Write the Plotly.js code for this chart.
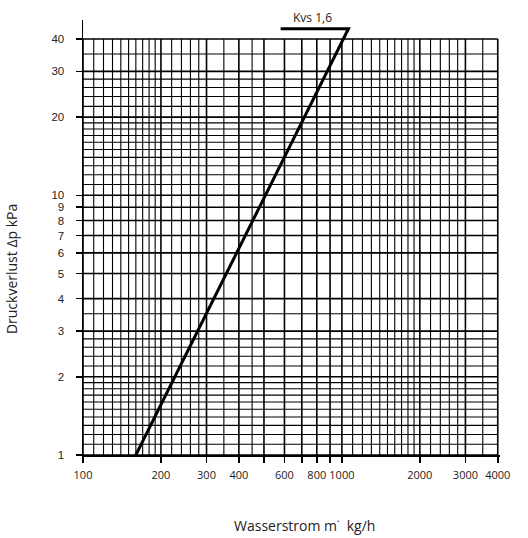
<!DOCTYPE html>
<html>
<head>
<meta charset="utf-8">
<script src="https://cdn.plot.ly/plotly-3.0.1.min.js"></script>
<style>html,body{margin:0;padding:0;background:#fff;}</style>
</head>
<body>
<div id="chart" style="width:528px;height:538px;"></div>
<script>
// Kvs 1,6 characteristic (flow kg/h vs pressure drop kPa)
const flow = [160, 1060, 580];
const dp   = [1, 43.8, 43.8];
const curveLabel = 'Kvs 1,6';

// axis ticks
const xTickVals = [100, 200, 300, 400, 500, 600, 700, 800, 900, 1000, 2000, 3000, 4000];
const xTickText = ['100', '200', '300', '400', '', '600', '', '800', '', '1000', '2000', '3000', '4000'];
const yTickVals = [1, 2, 3, 4, 5, 6, 7, 8, 9, 10, 20, 30, 40];
const yTickText = ['1', '2', '3', '4', '5', '6', '7', '8', '9', '10', '20', '30', '40'];

// grid lines
const xMinorGrid = [110, 120, 130, 140, 150, 160, 170, 180, 190, 220, 240, 260, 280, 350, 450,
  1100, 1200, 1300, 1400, 1500, 1600, 1700, 1800, 1900, 2200, 2400, 2600, 2800, 3500];
const yMinorGrid = [1.1, 1.2, 1.3, 1.4, 1.5, 1.6, 1.7, 1.8, 1.9, 2.2, 2.4, 2.6, 2.8, 3.5,
  11, 12, 13, 14, 15, 16, 17, 18, 19, 22, 24, 26, 28, 35];

const xMin = 100, xMax = 4000, yMin = 1, yMax = 40;

function vLines(vals) {
  const x = [], y = [];
  vals.forEach(v => { x.push(v, v, null); y.push(yMin, yMax, null); });
  return {x, y};
}
function hLines(vals) {
  const x = [], y = [];
  vals.forEach(v => { x.push(xMin, xMax, null); y.push(v, v, null); });
  return {x, y};
}
function gridTrace(d, w) {
  return {x: d.x, y: d.y, mode: 'lines', type: 'scatter', hoverinfo: 'skip',
    line: {color: '#000', width: w}, connectgaps: false};
}

const traces = [
  gridTrace(vLines(xMinorGrid), 1.1),
  gridTrace(hLines(yMinorGrid), 1.1),
  gridTrace(vLines(xTickVals), 1.6),
  gridTrace(hLines(yTickVals), 1.6),
  {x: flow, y: dp, mode: 'lines', type: 'scatter', hoverinfo: 'skip',
   line: {color: '#000', width: 3}}
];

const fontFam = '"Open Sans", "DejaVu Sans", sans-serif';
const axisCommon = {
  type: 'log', showgrid: false, zeroline: false, showline: true,
  linecolor: '#000', linewidth: 1.5, ticks: 'outside', ticklen: 6,
  tickwidth: 1.5, tickcolor: '#000', fixedrange: true, tickangle: 0,
  tickfont: {family: fontFam, size: 11, color: '#222'}
};

const layout = {
  width: 528, height: 538,
  margin: {l: 83, r: 28, t: 20, b: 83, pad: 0},
  paper_bgcolor: '#fff', plot_bgcolor: '#fff',
  showlegend: false,
  xaxis: Object.assign({}, axisCommon, {
    range: [2, 3.6107], tickmode: 'array', tickvals: xTickVals, ticktext: xTickText,
    ticklabelstandoff: 3
  }),
  yaxis: Object.assign({}, axisCommon, {
    range: [0, 1.675], tickmode: 'array', tickvals: yTickVals, ticktext: yTickText,
    ticklabelstandoff: 9,
    tickfont: {family: '"Liberation Sans", Arial, sans-serif', size: 11.5, color: '#222'}
  }),
  annotations: [
    {text: curveLabel, xref: 'x', yref: 'paper', x: Math.log10(768), y: 1.005,
     showarrow: false, xanchor: 'center', yanchor: 'middle',
     font: {family: fontFam, size: 12, color: '#222'}},
    {text: 'Druckverlust Δp kPa', xref: 'paper', yref: 'paper', x: -0.170, y: 0.4276,
     textangle: -90, showarrow: false, xanchor: 'center', yanchor: 'middle',
     font: {family: fontFam, size: 14, color: '#222'}},
    {text: 'Wasserstrom m˙  kg/h', xref: 'paper', yref: 'paper', x: 0.53, y: -0.161,
     showarrow: false, xanchor: 'center', yanchor: 'middle',
     font: {family: fontFam, size: 14, color: '#222'}}
  ]
};

Plotly.newPlot('chart', traces, layout, {staticPlot: true, displayModeBar: false});
</script>
</body>
</html>
